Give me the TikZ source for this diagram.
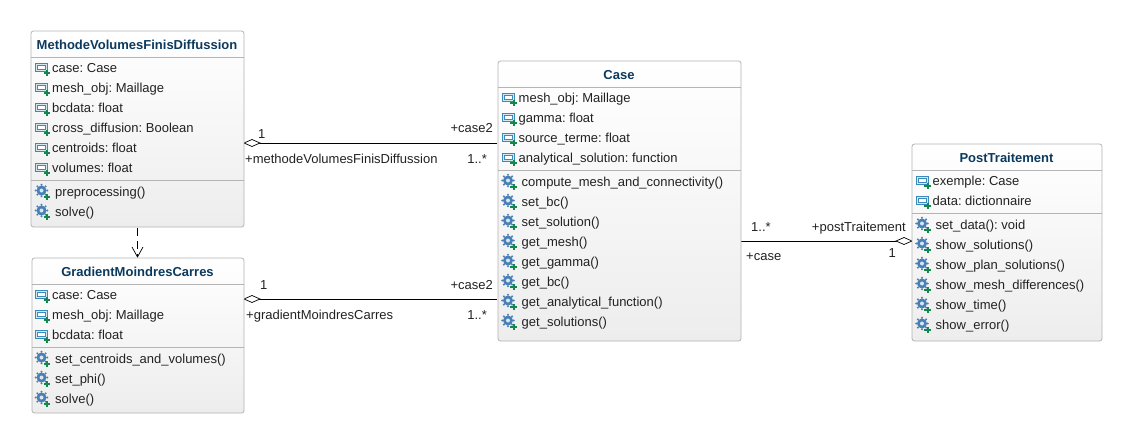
\documentclass[tikz,border=0pt]{standalone}
\usepackage{fontspec}
\setmainfont{Liberation Sans}
\frenchspacing
\usetikzlibrary{shapes.geometric,arrows.meta,calc}
\definecolor{titlec}{HTML}{0B3A5E}
\definecolor{bordc}{HTML}{B4B4B4}
\definecolor{sepc}{HTML}{B4B4B4}
\definecolor{txtc}{HTML}{222222}
\definecolor{attb}{HTML}{3A8ABB}
\definecolor{attf}{HTML}{D5E8F2}
\definecolor{plusc}{HTML}{14884A}
\definecolor{gearc}{HTML}{4A7FB5}
\definecolor{boxbot}{HTML}{EDEDED}
\tikzset{x=1pt,y=-1pt,
 cls/.style={draw=bordc,line width=0.8pt,rounded corners=2.5pt},
 rowtxt/.style={anchor=base west,inner sep=0pt,font=\fontsize{13}{15}\selectfont,text=txtc},
 ttl/.style={anchor=base,inner sep=0pt,font=\fontsize{13}{15}\selectfont\bfseries,text=titlec},
 lab/.style={anchor=base west,inner sep=0pt,font=\fontsize{13}{15}\selectfont,text=txtc},
 labr/.style={anchor=base east,inner sep=0pt,font=\fontsize{13}{15}\selectfont,text=txtc},
 sepl/.style={draw=sepc,line width=0.8pt},
 assoc/.style={draw=black,line width=0.8pt},
 diam/.style={draw=black,line width=0.7pt,fill=white}}
\newcommand{\pluss}[2]{\fill[plusc] (#1-3.2,#2-1) rectangle (#1+3.2,#2+1);\fill[plusc] (#1-1,#2-3.2) rectangle (#1+1,#2+3.2);}
\newcommand{\attic}[2]{% x,y = left, centre
 \draw[attb,line width=0.9pt,fill=attf] (#1,#2-5) rectangle (#1+12,#2+3);
 \draw[attb,line width=0.8pt,fill=white] (#1+2,#2-2.4) rectangle (#1+10,#2+1);
 \pluss{#1+11.5}{#2+5}}
\newcommand{\gearic}[2]{%
 \fill[gearc] (#1+6,#2-1.5) circle (5);
 \foreach \a in {0,45,...,315}{\fill[gearc] ($(#1+6,#2-1.5)+(\a:5.8)$) circle (1.1);}
 \fill[attf] (#1+6,#2-1.5) circle (2);
 \pluss{#1+11.5}{#2+5}}
\newcommand{\umlbox}[6]{% name, x1,y1,x2,y2, title
 \shade[rounded corners=2.5pt,top color=white,bottom color=boxbot] (#2,#3) rectangle (#4,#5);
 \draw[cls] (#2,#3) rectangle (#4,#5);
 \coordinate (#1) at (#2,#3);
 \node[ttl] (#1t) at ({(#2+#4)/2-0.5},#3+18.5) {#6};}
\newcommand{\attrow}[3]{\attic{#1}{#2}\node[rowtxt] at (#1+16.5,#2+4.5) {#3};}
\newcommand{\oprow}[3]{\gearic{#1}{#2}\node[rowtxt] at (#1+19.5,#2+4.5) {#3};}
\begin{document}
\begin{tikzpicture}
\useasboundingbox (0,0) rectangle (1132,442);
\fill[white] (0,0) rectangle (1132,442);
% Connectors
\coordinate (mvL) at (244,143); \coordinate (mvR) at (497,143);
\coordinate (grL) at (244,299); \coordinate (grR) at (497,299);
\coordinate (caR) at (741,241); \coordinate (poL) at (912,241);
\draw[assoc] (mvL) -- (mvR);
\draw[assoc] (grL) -- (grR);
\draw[assoc] (caR) -- (poL);
\draw[line width=0.8pt,draw=black,dash pattern=on 8pt off 5pt] (137.5,228) -- (137.5,257);
\draw[line width=0.7pt,draw=black] (132,247) -- (137.5,257) -- (143,247);
\draw[diam] (244,143) -- (252,139.5) -- (260,143) -- (252,146.5) -- cycle;
\draw[diam] (244,299) -- (252,295.5) -- (260,299) -- (252,302.5) -- cycle;
\draw[diam] (912,241) -- (904,237.5) -- (896,241) -- (904,244.5) -- cycle;
% MVF
\umlbox{mvf}{31}{31}{244}{227}{MethodeVolumesFinisDiffussion}
\draw[sepl] (31,57.5) -- (244,57.5);
\draw[sepl] (31,180.5) -- (244,180.5);
\attrow{35.5}{68}{case: Case}
\attrow{35.5}{88}{mesh\_obj: Maillage}
\attrow{35.5}{108}{bcdata: float}
\attrow{35.5}{128}{cross\_diffusion: Boolean}
\attrow{35.5}{148}{centroids: float}
\attrow{35.5}{168}{volumes: float}
\oprow{35.5}{192}{preprocessing()}
\oprow{35.5}{212}{solve()}
% Gradient
\umlbox{gmc}{32}{258}{244}{413}{GradientMoindresCarres}
\draw[sepl] (32,284.5) -- (244,284.5);
\draw[sepl] (32,347.5) -- (244,347.5);
\attrow{35.5}{295}{case: Case}
\attrow{35.5}{315}{mesh\_obj: Maillage}
\attrow{35.5}{335}{bcdata: float}
\oprow{35.5}{359}{set\_centroids\_and\_volumes()}
\oprow{35.5}{379}{set\_phi()}
\oprow{35.5}{399}{solve()}
% Case
\umlbox{cas}{498}{61}{741}{341}{Case}
\draw[sepl] (498,87.5) -- (741,87.5);
\draw[sepl] (498,170.5) -- (741,170.5);
\attrow{502}{98}{mesh\_obj: Maillage}
\attrow{502}{118}{gamma: float}
\attrow{502}{138}{source\_terme: float}
\attrow{502}{158}{analytical\_solution: function}
\oprow{502}{182}{compute\_mesh\_and\_connectivity()}
\oprow{502}{202}{set\_bc()}
\oprow{502}{222}{set\_solution()}
\oprow{502}{242}{get\_mesh()}
\oprow{502}{262}{get\_gamma()}
\oprow{502}{282}{get\_bc()}
\oprow{502}{302}{get\_analytical\_function()}
\oprow{502}{322}{get\_solutions()}
% Post
\umlbox{pos}{912}{144}{1102}{341}{PostTraitement}
\draw[sepl] (912,170.5) -- (1102,170.5);
\draw[sepl] (912,213.5) -- (1102,213.5);
\attrow{916}{181}{exemple: Case}
\attrow{916}{201}{data: dictionnaire}
\oprow{916}{225}{set\_data(): void}
\oprow{916}{245}{show\_solutions()}
\oprow{916}{265}{show\_plan\_solutions()}
\oprow{916}{285}{show\_mesh\_differences()}
\oprow{916}{305}{show\_time()}
\oprow{916}{325}{show\_error()}
% Labels
\node[lab] (l1) at (258,138.5) {1};
\node[labr] (l2) at (493,132.5) {+case2};
\node[lab] (l3) at (245,163.5) {+methodeVolumesFinisDiffussion};
\node[labr] (l4) at (487,163.5) {1..*};
\node[lab] (l5) at (260,289.5) {1};
\node[labr] (l6) at (493,289.5) {+case2};
\node[lab] (l7) at (246,319.5) {+gradientMoindresCarres};
\node[labr] (l8) at (487,319.5) {1..*};
\node[lab] (l9) at (751,231.5) {1..*};
\node[labr] (l10) at (906,231.5) {+postTraitement};
\node[lab] (l11) at (746,260.5) {+case};
\node[labr] (l12) at (896,257.5) {1};
\end{tikzpicture}
\end{document}
